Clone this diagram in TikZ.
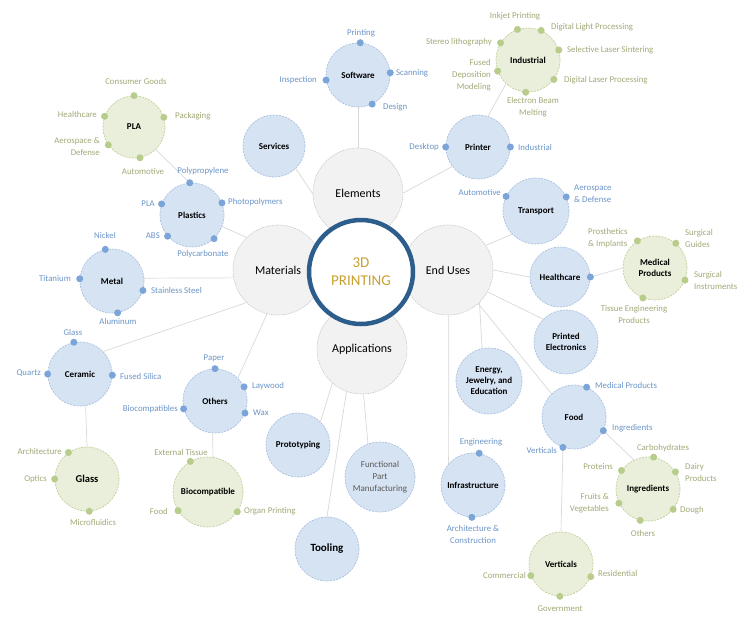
\documentclass[tikz,border=0pt]{standalone}
\usepackage{fontspec}
\setmainfont{Carlito}
\usetikzlibrary{backgrounds}
\definecolor{grayfill}{HTML}{F2F2F2}
\definecolor{grayline}{HTML}{C9C9C9}
\definecolor{bluefill}{HTML}{D6E3F3}
\definecolor{blueline}{HTML}{A9C1E0}
\definecolor{bluedot}{HTML}{7BA4D8}
\definecolor{bluetext}{HTML}{6B95C8}
\definecolor{greenfill}{HTML}{E9EFDA}
\definecolor{greenline}{HTML}{C3D19C}
\definecolor{greendot}{HTML}{B8CC8C}
\definecolor{greentext}{HTML}{A0AA78}
\definecolor{linec}{HTML}{D9D9D9}
\definecolor{ringc}{HTML}{2D5E8B}
\definecolor{goldc}{HTML}{C9A130}
\tikzset{
  conn/.style={draw=linec, line width=0.7pt},
  graycirc/.style={circle, fill=grayfill, draw=grayline, dash pattern=on 1.5pt off 1pt, line width=0.6pt, minimum size=90pt, inner sep=0pt, text=black, font=\fontsize{12}{14}\selectfont},
  bluecirc/.style={circle, fill=bluefill, draw=blueline, dash pattern=on 2pt off 1.2pt, line width=0.7pt, inner sep=0pt, align=center, text=black, font=\bfseries\fontsize{9}{11}\selectfont},
  greencirc/.style={circle, fill=greenfill, draw=greenline, dash pattern=on 2pt off 1.2pt, line width=0.7pt, inner sep=0pt, align=center, text=black, font=\bfseries\fontsize{9}{11}\selectfont},
  bdot/.style={circle, fill=bluedot, inner sep=0pt, minimum size=7pt},
  gdot/.style={circle, fill=greendot, inner sep=0pt, minimum size=7pt},
  blab/.style={text=bluetext, inner sep=0pt, font=\fontsize{8.8}{12}\selectfont},
  glab/.style={text=greentext, inner sep=0pt, font=\fontsize{8.8}{12}\selectfont},
}
\begin{document}
\begin{tikzpicture}[x=1pt,y=-1pt]
\useasboundingbox (0,0) rectangle (750,622);
% ---- main gray circles
\node[graycirc] (elements) at (358,193) {Elements};
\node[graycirc] (materials) at (278,270) {Materials};
\node[graycirc] (enduses) at (448,270) {End Uses};
\node[graycirc] (applications) at (362,349) {Applications};
\node[circle, draw=ringc, line width=4.5pt, fill=white, minimum size=104pt, inner sep=0pt, align=center, text=goldc, font=\fontsize{15}{18}\selectfont] (core) at (361,272) {3D\\PRINTING};
% ---- blue circles
\node[bluecirc, minimum size=64pt] (software) at (358,75) {Software};
\node[bluecirc, minimum size=62pt] (services) at (274,146) {Services};
\node[bluecirc, minimum size=64pt] (printer) at (478,147) {Printer};
\node[bluecirc, minimum size=66pt] (transport) at (536,211) {Transport};
\node[bluecirc, minimum size=60pt] (healthcare) at (560,277) {Healthcare};
\node[bluecirc, minimum size=64pt] (printed) at (566,342) {Printed\\Electronics};
\node[bluecirc, minimum size=66pt] (energy) at (489,381) {Energy,\\Jewelry, and\\Education};
\node[bluecirc, minimum size=64pt] (food) at (574,417) {Food};
\node[bluecirc, minimum size=64pt] (infra) at (473,485) {Infrastructure};
\node[bluecirc, minimum size=64pt] (prototyping) at (298,445) {Prototyping};
\node[bluecirc, minimum size=70pt, text=black!65, font=\fontsize{9}{12}\selectfont] (functional) at (380,477) {Functional\\Part\\Manufacturing};
\node[bluecirc, minimum size=64pt, font=\bfseries\fontsize{11}{13}\selectfont] (tooling) at (327,549) {Tooling};
\node[bluecirc, minimum size=64pt] (plastics) at (192,215) {Plastics};
\node[bluecirc, minimum size=64pt] (metal) at (112,281) {Metal};
\node[bluecirc, minimum size=64pt] (ceramic) at (80,374) {Ceramic};
\node[bluecirc, minimum size=64pt] (others) at (215,401) {Others};
% ---- green circles
\node[greencirc, minimum size=64pt] (industrial) at (528,60) {Industrial};
\node[greencirc, minimum size=64pt] (medical) at (655,268) {Medical\\Products};
\node[greencirc, minimum size=64pt] (ingredients) at (648,489) {Ingredients};
\node[greencirc, minimum size=64pt] (verticals) at (561,564) {Verticals};
\node[greencirc, minimum size=62pt] (pla) at (134,127) {PLA};
\node[greencirc, minimum size=64pt, font=\bfseries\fontsize{10.5}{12}\selectfont] (glass) at (87,479) {Glass};
\node[greencirc, minimum size=70pt] (biocomp) at (208,492) {Biocompatible};
% ---- dots
\node[bdot] (sw1) at (software.86) {};
\node[bdot] (sw2) at (software.4) {};
\node[bdot] (sw3) at (software.189) {};
\node[bdot] (sw4) at (software.-64) {};
\node[bdot] (pr1) at (printer.180) {};
\node[bdot] (pr2) at (printer.0) {};
\node[gdot] (in1) at (industrial.109) {};
\node[gdot] (in2) at (industrial.66) {};
\node[gdot] (in3) at (industrial.18) {};
\node[gdot] (in4) at (industrial.-37) {};
\node[gdot] (in5) at (industrial.-94) {};
\node[gdot] (in6) at (industrial.148) {};
\node[gdot] (in7) at (industrial.200) {};
\node[bdot] (tr1) at (transport.154) {};
\node[bdot] (tr2) at (transport.25) {};
\node[bdot] (hc1) at (healthcare.0) {};
\node[gdot] (md1) at (medical.123) {};
\node[gdot] (md2) at (medical.50) {};
\node[gdot] (md3) at (medical.-22) {};
\node[gdot] (md4) at (medical.-112) {};
\node[bdot] (fd1) at (food.67) {};
\node[bdot] (fd2) at (food.-25) {};
\node[bdot] (fd3) at (food.-110) {};
\node[gdot] (ig1) at (ingredients.80) {};
\node[gdot] (ig2) at (ingredients.32) {};
\node[gdot] (ig3) at (ingredients.-39) {};
\node[gdot] (ig4) at (ingredients.-104) {};
\node[gdot] (ig5) at (ingredients.206) {};
\node[gdot] (ig6) at (ingredients.145) {};
\node[gdot] (vt1) at (verticals.201) {};
\node[gdot] (vt2) at (verticals.-23) {};
\node[gdot] (vt3) at (verticals.-92) {};
\node[bdot] (if1) at (infra.79) {};
\node[bdot] (if2) at (infra.-92) {};
\node[bdot] (pl1) at (plastics.94) {};
\node[bdot] (pl2) at (plastics.160) {};
\node[bdot] (pl3) at (plastics.22) {};
\node[bdot] (pl4) at (plastics.221) {};
\node[bdot] (pl5) at (plastics.-47) {};
\node[gdot] (pa1) at (pla.90) {};
\node[gdot] (pa2) at (pla.18) {};
\node[gdot] (pa3) at (pla.160) {};
\node[gdot] (pa4) at (pla.215) {};
\node[gdot] (pa5) at (pla.-79) {};
\node[bdot] (mt1) at (metal.102) {};
\node[bdot] (mt2) at (metal.176) {};
\node[bdot] (mt3) at (metal.-17) {};
\node[bdot] (mt4) at (metal.-80) {};
\node[bdot] (ce1) at (ceramic.101) {};
\node[bdot] (ce2) at (ceramic.180) {};
\node[bdot] (ce3) at (ceramic.-2) {};
\node[gdot] (gl1) at (glass.125) {};
\node[gdot] (gl2) at (glass.180) {};
\node[gdot] (gl3) at (glass.-86) {};
\node[bdot] (ot1) at (others.90) {};
\node[bdot] (ot2) at (others.26) {};
\node[bdot] (ot3) at (others.-22) {};
\node[bdot] (ot4) at (others.194) {};
\node[gdot] (bc1) at (biocomp.120) {};
\node[gdot] (bc2) at (biocomp.212) {};
\node[gdot] (bc3) at (biocomp.-34) {};
% ---- labels
\node[blab] (lsw1) at (361,33) {Printing};
\node[blab, anchor=west] (lsw2) at (396,73) {Scanning};
\node[blab, anchor=east] (lsw3) at (317,80) {Inspection};
\node[blab, anchor=west] (lsw4) at (383,107) {Design};
\node[blab, anchor=east] (lpr1) at (439,147) {Desktop};
\node[blab, anchor=west] (lpr2) at (518,147) {Industrial};
\node[glab] (lin1) at (515,16) {Inkjet Printing};
\node[glab, anchor=west] (lin2) at (551,27) {Digital Light Processing};
\node[glab, anchor=west] (lin3) at (567,50) {Selective Laser Sintering};
\node[glab, anchor=west] (lin4) at (564,80) {Digital Laser Processing};
\node[glab, align=center] (lin5) at (533,107) {Electron Beam\\Melting};
\node[glab, anchor=east] (lin6) at (492,42) {Stereo lithography};
\node[glab, anchor=east, align=right] (lin7) at (491,75) {Fused\\Deposition\\Modeling};
\node[blab, anchor=east] (ltr1) at (501,192) {Automotive};
\node[blab, anchor=west, align=left] (ltr2) at (574,194) {Aerospace\\\& Defense};
\node[glab, anchor=west, align=left] (lmd1) at (588,238) {Prosthetics\\\& Implants};
\node[glab, anchor=west, align=left] (lmd2) at (685,238) {Surgical\\Guides};
\node[glab, anchor=west, align=left] (lmd3) at (694,280) {Surgical\\Instruments};
\node[glab, align=center] (lmd4) at (634,314) {Tissue Engineering\\Products};
\node[blab, anchor=west] (lfd1) at (595,385) {Medical Products};
\node[blab, anchor=west] (lfd2) at (612,428) {Ingredients};
\node[blab, anchor=east] (lfd3) at (557,450) {Verticals};
\node[glab] (lig1) at (663,448) {Carbohydrates};
\node[glab, anchor=west, align=left] (lig2) at (685,472) {Dairy\\Products};
\node[glab, anchor=west] (lig3) at (680,510) {Dough};
\node[glab] (lig4) at (643,533) {Others};
\node[glab, anchor=east, align=right] (lig5) at (609,503) {Fruits \&\\Vegetables};
\node[glab, anchor=east] (lig6) at (613,466) {Proteins};
\node[glab, anchor=east] (lvt1) at (526,575) {Commercial};
\node[glab, anchor=west] (lvt2) at (598,573) {Residential};
\node[glab] (lvt3) at (560,609) {Government};
\node[blab] (lif1) at (481,442) {Engineering};
\node[blab, align=center] (lif2) at (473,534) {Architecture \&\\Construction};
\node[blab] (lpl1) at (203,171) {Polypropylene};
\node[blab, anchor=east] (lpl2) at (155,204) {PLA};
\node[blab, anchor=west] (lpl3) at (228,202) {Photopolymers};
\node[blab, anchor=east] (lpl4) at (160,236) {ABS};
\node[blab] (lpl5) at (203,254) {Polycarbonate};
\node[glab] (lpa1) at (136,81) {Consumer Goods};
\node[glab, anchor=west] (lpa2) at (175,116) {Packaging};
\node[glab, anchor=east] (lpa3) at (97,114) {Healthcare};
\node[glab, anchor=east, align=right] (lpa4) at (100,147) {Aerospace \&\\Defense};
\node[glab] (lpa5) at (143,171) {Automotive};
\node[blab] (lmt1) at (105,235) {Nickel};
\node[blab, anchor=east] (lmt2) at (71,278) {Titanium};
\node[blab, anchor=west] (lmt3) at (151,290) {Stainless Steel};
\node[blab] (lmt4) at (118,321) {Aluminum};
\node[blab] (lce1) at (73,332) {Glass};
\node[blab, anchor=east] (lce2) at (41,373) {Quartz};
\node[blab, anchor=west] (lce3) at (120,376) {Fused Silica};
\node[glab, anchor=east] (lgl1) at (62,451) {Architecture};
\node[glab, anchor=east] (lgl2) at (47,479) {Optics};
\node[glab] (lgl3) at (93,522) {Microfluidics};
\node[blab] (lot1) at (214,358) {Paper};
\node[blab, anchor=west] (lot2) at (252,386) {Laywood};
\node[blab, anchor=west] (lot3) at (253,413) {Wax};
\node[blab, anchor=east] (lot4) at (178,409) {Biocompatibles};
\node[glab] (lbc1) at (181,452) {External Tissue};
\node[glab, anchor=east] (lbc2) at (168,511) {Food};
\node[glab, anchor=west] (lbc3) at (244,511) {Organ Printing};
% ---- connectors
\begin{scope}[on background layer]
\fill[white] (0,0) rectangle (750,622);
\draw[conn] (elements) -- (software);
\draw[conn] (services.-46) -- (elements.181);
\draw[conn] (elements.0) -- (printer.217);
\draw[conn] (printer.72) -- (industrial.227);
\draw[conn] (plastics.-21) -- (materials.134);
\draw[conn] (metal.5) -- (materials.190);
\draw[conn] (ceramic.44) -- (materials.226);
\draw[conn] (others.45) -- (materials.256);
\draw[conn] (pla.-46) -- (pl1.center);
\draw[conn] (ceramic.280) -- (glass.90);
\draw[conn] (others.-94) -- (biocomp.82);
\draw[conn] (applications.229) -- (prototyping.46);
\draw[conn] (applications.250) -- (tooling.90);
\draw[conn] (applications.272) -- (functional.110);
\draw[conn] (enduses.33) -- (transport.224);
\draw[conn] (enduses.0) -- (healthcare.180);
\draw[conn] (enduses.-29) -- (printed.135);
\draw[conn] (enduses.-46) -- (energy.102);
\draw[conn] (enduses.-48) -- (food.134);
\draw[conn] (enduses.271) -- (infra.139);
\draw[conn] (hc1.center) -- (medical.180);
\draw[conn] (fd2.center) -- (ingredients.116);
\draw[conn] (fd3.center) -- (verticals.90);
\end{scope}
\end{tikzpicture}
\end{document}
